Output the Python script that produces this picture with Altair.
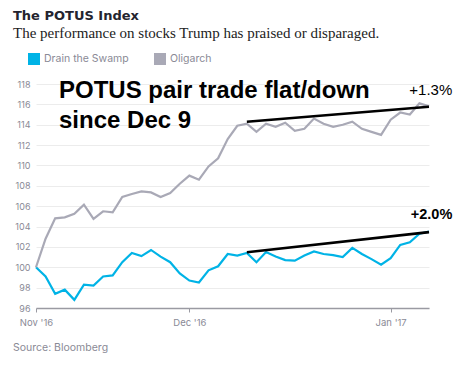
import altair as alt
import pandas as pd

# ---- data (x = trading-day index from Nov 8, 2016) ----
days = list(range(42))
drain_the_swamp = [100, 99.1, 97.4, 97.8, 96.8, 98.3, 98.2, 99.1, 99.2, 100.5,
                   101.4, 101.1, 101.7, 101.05, 100.5, 99.4, 98.7, 98.5, 99.7, 100.1,
                   101.3, 101.15, 101.4, 100.5, 101.5, 101.05, 100.7, 100.65, 101.15, 101.55,
                   101.3, 101.2, 101.0, 101.9, 101.3, 100.8, 100.25, 100.9, 102.2, 102.45,
                   103.3, 103.5]
oligarch = [100, 102.8, 104.8, 104.9, 105.25, 106.15, 104.75, 105.5, 105.4, 106.9,
            107.2, 107.45, 107.35, 106.9, 107.3, 108.2, 109.0, 108.6, 109.9, 110.7,
            112.6, 113.9, 114.1, 113.3, 114.1, 113.8, 114.2, 113.4, 113.6, 114.6,
            114.1, 113.8, 114.0, 114.3, 113.6, 113.3, 113.0, 114.5, 115.2, 115.0,
            116.1, 115.8]
series_names = ["Drain the Swamp", "Oligarch"]
series_colors = ["#00b3e6", "#a9a9b6"]

tick_days = [0, 16, 37]
tick_labels = ["Nov '16", "Dec '16", "Jan '17"]
y_ticks = list(range(96, 119, 2))

trend_series = ["Oligarch", "Oligarch", "Drain the Swamp", "Drain the Swamp"]
trend_days = [22, 41, 22, 41]
trend_values = [114.29, 115.76, 101.48, 103.45]

headline = ["POTUS pair trade flat/down\nsince Dec 9"]
headline_day = [2.4]
headline_value = [116.6]

oligarch_pct = ["+1.3%"]
oligarch_pct_day = [38.95]
oligarch_pct_value = [116.9]
swamp_pct = ["+2.0%"]
swamp_pct_day = [39.1]
swamp_pct_value = [104.75]

title_text = "The POTUS Index"
subtitle_text = "The performance on stocks Trump has praised or disparaged."
source_text = ["Source: Bloomberg"]

# ---- tables ----
lines_df = pd.DataFrame({
    "day": days * 2,
    "value": drain_the_swamp + oligarch,
    "series": [series_names[0]] * len(days) + [series_names[1]] * len(days),
})
trend_df = pd.DataFrame({"series": trend_series, "day": trend_days, "value": trend_values})
head_df = pd.DataFrame({"label": headline, "day": headline_day, "value": headline_value})
olig_df = pd.DataFrame({"label": oligarch_pct, "day": oligarch_pct_day, "value": oligarch_pct_value})
swamp_df = pd.DataFrame({"label": swamp_pct, "day": swamp_pct_day, "value": swamp_pct_value})
src_df = pd.DataFrame({"label": source_text})

label_expr = " : ".join(
    f'datum.value == {d} ? "{t}"' for d, t in zip(tick_days, tick_labels)
) + ' : ""'

AX_FONT = "Inter"
AX_COLOR = "#8a8a96"

x_enc = alt.X(
    "day:Q",
    scale=alt.Scale(domain=[0, 41], nice=False, zero=False),
    axis=alt.Axis(values=tick_days, labelExpr=label_expr, title=None, grid=False,
                  domainColor="#9a9aa2", domainWidth=1.5, tickColor="#9a9aa2",
                  tickSize=4, tickWidth=1, labelFont=AX_FONT, labelFontSize=9.5,
                  labelColor=AX_COLOR, labelPadding=5, labelFlush=False,
                  labelOverlap=False),
)
y_enc = alt.Y(
    "value:Q",
    scale=alt.Scale(domain=[96, 118], nice=False, zero=False),
    axis=alt.Axis(values=y_ticks, title=None, domain=False, ticks=False,
                  gridColor="#ececec", gridWidth=1, labelFont=AX_FONT,
                  labelFontSize=9, labelColor=AX_COLOR, labelPadding=6,
                  labelOverlap=False),
)

lines = alt.Chart(lines_df).mark_line(strokeWidth=2.2).encode(
    x=x_enc,
    y=y_enc,
    color=alt.Color(
        "series:N",
        scale=alt.Scale(domain=series_names, range=series_colors),
        legend=alt.Legend(orient="none", legendX=-8, legendY=-31, direction="horizontal",
                          title=None, symbolType="square", symbolSize=36,
                          symbolStrokeWidth=6, labelFont=AX_FONT, labelFontSize=10.5,
                          labelColor=AX_COLOR, columnPadding=16, labelOffset=4),
    ),
    order="day:Q",
)

trend = alt.Chart(trend_df).mark_line(strokeWidth=2.6, color="black").encode(
    x=x_enc, y=y_enc, detail="series:N"
)

head = alt.Chart(head_df).mark_text(
    align="left", baseline="alphabetic", font="Liberation Sans", fontWeight="bold",
    fontSize=24, lineBreak="\n", lineHeight=30, color="black"
).encode(x=x_enc, y=y_enc, text="label:N")

olig_lbl = alt.Chart(olig_df).mark_text(
    align="left", baseline="alphabetic", font="Liberation Sans", fontSize=15, color="black"
).encode(x=x_enc, y=y_enc, text="label:N")

swamp_lbl = alt.Chart(swamp_df).mark_text(
    align="left", baseline="alphabetic", font="Liberation Sans", fontSize=14.5,
    fontWeight="bold", color="black"
).encode(x=x_enc, y=y_enc, text="label:N")

source = alt.Chart(src_df).mark_text(
    align="left", baseline="middle", font=AX_FONT, fontSize=10.5, color=AX_COLOR
).encode(x=alt.value(-23), y=alt.value(264), text="label:N")

chart = alt.layer(lines, trend, head, olig_lbl, swamp_lbl, source).properties(
    width=393,
    height=224,
    background="white",
    autosize=alt.AutoSizeParams(type="none"),
    padding={"left": 28, "top": 76, "right": 25, "bottom": 50},
    title=alt.TitleParams(
        text=title_text, subtitle=subtitle_text, anchor="start", frame="group",
        dx=-23, offset=12, font="DejaVu Sans", fontSize=13, fontWeight="bold",
        color="#24242f", subtitleFont="Liberation Serif", subtitleFontSize=15,
        subtitleColor="#222222", subtitlePadding=3,
    ),
).configure_view(stroke=None)

chart.save("out.html", embed_options={"renderer": "svg", "actions": False})
